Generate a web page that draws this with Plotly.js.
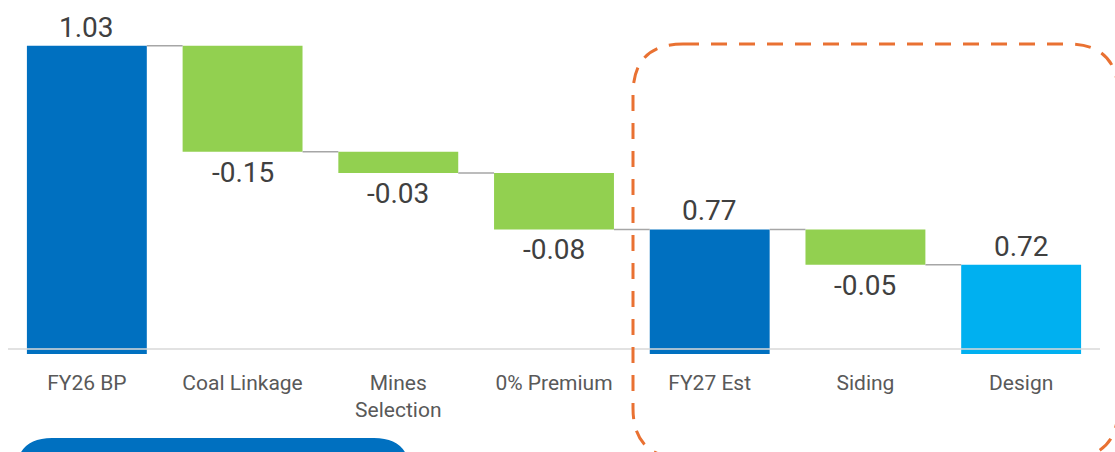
<!DOCTYPE html>
<html>
<head>
<meta charset="utf-8">
<script src="https://cdn.plot.ly/plotly-3.0.1.min.js"></script>
<style>html,body{margin:0;padding:0;background:#fff;}#chart{width:1115px;height:452px;}</style>
</head>
<body>
<div id="chart"></div>
<script>
// ---- data ----
const categories = ['FY26 BP', 'Coal Linkage', 'Mines<br>Selection', '0% Premium', 'FY27 Est', 'Siding', 'Design'];
const values = [1.03, -0.15, -0.03, -0.08, 0.77, -0.05, 0.72];
const measures = ['absolute', 'relative', 'relative', 'relative', 'total', 'relative', 'total'];
const labels = ['1.03', '-0.15', '-0.03', '-0.08', '0.77', '-0.05', '0.72'];

// ---- styles ----
const colorTotal = '#0070C0';
const colorFinal = '#00B0F0';
const colorNeg = '#92D050';
const W = 1115, H = 452;
const M = {l: 9, r: 16, t: 10, b: 98};
const yMin = 0.5937, yMax = 1.0805;
const barWidth = 0.77;

// compute bases / heights
let running = 0;
const bases = [], heights = [], colors = [], levels = [];
values.forEach((v, i) => {
  if (measures[i] === 'relative') {
    bases.push(running); heights.push(v); running += v;
    colors.push(colorNeg);
  } else {
    bases.push(0); heights.push(v); running = v;
    colors.push(i === values.length - 1 ? colorFinal : colorTotal);
  }
  levels.push(running);
});

const xs = categories.map((c, i) => i);

const trace = {
  type: 'bar',
  x: xs,
  y: heights,
  base: bases,
  width: barWidth,
  marker: {color: colors, line: {width: 0}},
  hoverinfo: 'skip'
};

// helpers for pixel -> paper
const pw = W - M.l - M.r, ph = H - M.t - M.b;
const px = x => (x - M.l) / pw;
const py = y => (H - M.b - y) / ph;

function roundRectPath(x0, y0, x1, y1, r) {
  const P = (x, y) => px(x).toFixed(5) + ',' + py(y).toFixed(5);
  return 'M' + P(x0 + r, y0) + ' L' + P(x1 - r, y0) + ' Q' + P(x1, y0) + ' ' + P(x1, y0 + r) +
    ' L' + P(x1, y1 - r) + ' Q' + P(x1, y1) + ' ' + P(x1 - r, y1) +
    ' L' + P(x0 + r, y1) + ' Q' + P(x0, y1) + ' ' + P(x0, y1 - r) +
    ' L' + P(x0, y0 + r) + ' Q' + P(x0, y0) + ' ' + P(x0 + r, y0) + ' Z';
}

const shapes = [];
// connectors
for (let i = 0; i < values.length - 1; i++) {
  shapes.push({
    type: 'line', xref: 'x', yref: 'y',
    x0: i + barWidth / 2, x1: i + 1 - barWidth / 2,
    y0: levels[i], y1: levels[i],
    line: {color: '#A6A6A6', width: 1.5}, layer: 'above'
  });
}
// axis baseline
shapes.push({
  type: 'line', xref: 'paper', yref: 'paper',
  x0: px(8), x1: px(1100), y0: py(349), y1: py(349),
  line: {color: '#D9D9D9', width: 1.5}, layer: 'above'
});
// orange dashed highlight
shapes.push({
  type: 'path', xref: 'paper', yref: 'paper',
  path: roundRectPath(633, 44, 1118, 458, 50),
  line: {color: '#E97132', width: 3, dash: '16px,12px'}, fillcolor: 'rgba(0,0,0,0)', layer: 'above'
});
// blue banner at bottom
shapes.push({
  type: 'path', xref: 'paper', yref: 'paper',
  path: roundRectPath(16, 438, 410, 500, 36),
  line: {width: 0}, fillcolor: '#0070C0', layer: 'above'
});

// value labels
const annotations = values.map((v, i) => {
  const isNeg = measures[i] === 'relative' && v < 0;
  const top = bases[i] + Math.max(0, heights[i]);
  const bottom = bases[i] + Math.min(0, heights[i]);
  return {
    x: i, y: isNeg ? bottom : top, xref: 'x', yref: 'y',
    text: labels[i], showarrow: false,
    yanchor: isNeg ? 'top' : 'bottom',
    yshift: isNeg ? -2 : 0,
    font: {family: 'Roboto, Arial, sans-serif', size: 28, color: '#404040'}
  };
});

const layout = {
  width: W, height: H,
  margin: M,
  paper_bgcolor: '#fff', plot_bgcolor: '#fff',
  showlegend: false,
  bargap: 0.23,
  xaxis: {
    type: 'linear',
    range: [-0.5, categories.length - 0.5],
    tickmode: 'array', tickvals: xs, ticktext: categories,
    showgrid: false, zeroline: false, showline: false, ticks: '',
    ticklabelstandoff: 14,
    tickfont: {family: 'Roboto, Arial, sans-serif', size: 21, color: '#595959'},
    fixedrange: true
  },
  yaxis: {
    range: [yMin, yMax], visible: false, showgrid: false, zeroline: false, fixedrange: true
  },
  shapes: shapes,
  annotations: annotations
};

Plotly.newPlot('chart', [trace], layout, {displayModeBar: false, staticPlot: true});
</script>
</body>
</html>
